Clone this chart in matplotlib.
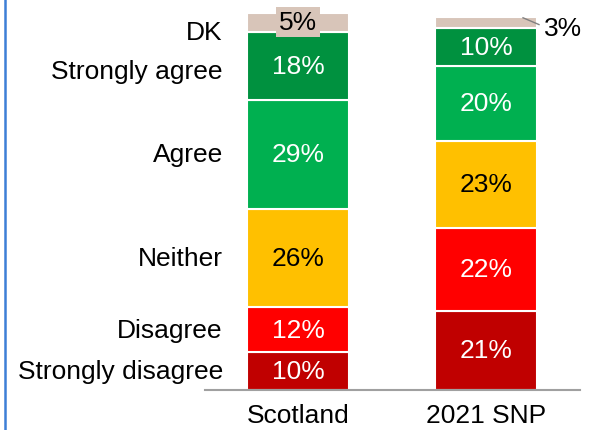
import matplotlib
matplotlib.use("Agg")
import matplotlib.pyplot as plt
from matplotlib.lines import Line2D

plt.rcParams['font.family'] = ['Liberation Sans', 'DejaVu Sans']

categories = ["Scotland", "2021 SNP"]
responses = ["Strongly disagree", "Disagree", "Neither", "Agree", "Strongly agree", "DK"]
strongly_disagree = [10, 21]
disagree = [12, 22]
neither = [26, 23]
agree = [29, 20]
strongly_agree = [18, 10]
dk = [5, 3]

series = [strongly_disagree, disagree, neither, agree, strongly_agree, dk]
colors = ["#C00000", "#FF0000", "#FFC000", "#00B050", "#00913F", "#D8C5B9"]
text_colors = ["white", "white", "black", "white", "white", "black"]

fig = plt.figure(figsize=(6.01, 4.31), dpi=100)
ax = fig.add_axes([0.341, 0.0928, 0.624, 0.875])

x = list(range(len(categories)))
width = 0.54
bottoms = [0.0] * len(categories)
FS = 19
for k, (vals, col, tcol) in enumerate(zip(series, colors, text_colors)):
    ax.bar(x, vals, width, bottom=bottoms, color=col, edgecolor="white", linewidth=1.5, zorder=2)
    for i, v in enumerate(vals):
        mid = bottoms[i] + v / 2
        label = f"{v}%"
        if k == len(series) - 1 and i == 0:
            ax.text(x[i], mid, label, ha="center", va="center", color=tcol, fontsize=FS, zorder=4,
                    bbox=dict(boxstyle="square,pad=0.12", facecolor=col, edgecolor="none"))
        elif k == len(series) - 1 and i == 1:
            ax.add_line(Line2D([x[i] + 0.197, x[i] + 0.282], [mid + 1.2, mid - 0.6],
                               color="#808080", linewidth=1, zorder=4, clip_on=False))
            ax.text(x[i] + 0.31, mid - 1.5, label, ha="left", va="center", color="black",
                    fontsize=FS, zorder=4, clip_on=False)
        else:
            ax.text(x[i], mid, label, ha="center", va="center", color=tcol, fontsize=FS, zorder=4)
    # category labels on the left of the first bar
    mid0 = bottoms[0] + vals[0] / 2
    offs = {5: -2.5, 4: -1.5}.get(k, 0)
    ax.text(x[0] - 0.40, mid0 + offs, responses[k], ha="right", va="center", color="black",
            fontsize=FS, clip_on=False)
    bottoms = [b + v for b, v in zip(bottoms, vals)]

ax.set_xlim(-0.495, 1.5)
ax.set_ylim(0, 100)
ax.set_xticks(x)
ax.set_xticklabels(categories, fontsize=FS)
ax.tick_params(axis="x", length=0, pad=9)
ax.set_yticks([])
for s in ["top", "right", "left"]:
    ax.spines[s].set_visible(False)
ax.spines["bottom"].set_color("#A0A0A0")
ax.spines["bottom"].set_linewidth(1.5)
ax.spines["bottom"].set_zorder(5)

fig.add_artist(Line2D([0.009, 0.009], [0, 1], transform=fig.transFigure, color="#3D7FD6", linewidth=1.8))

fig.savefig("out.png", dpi=100)
